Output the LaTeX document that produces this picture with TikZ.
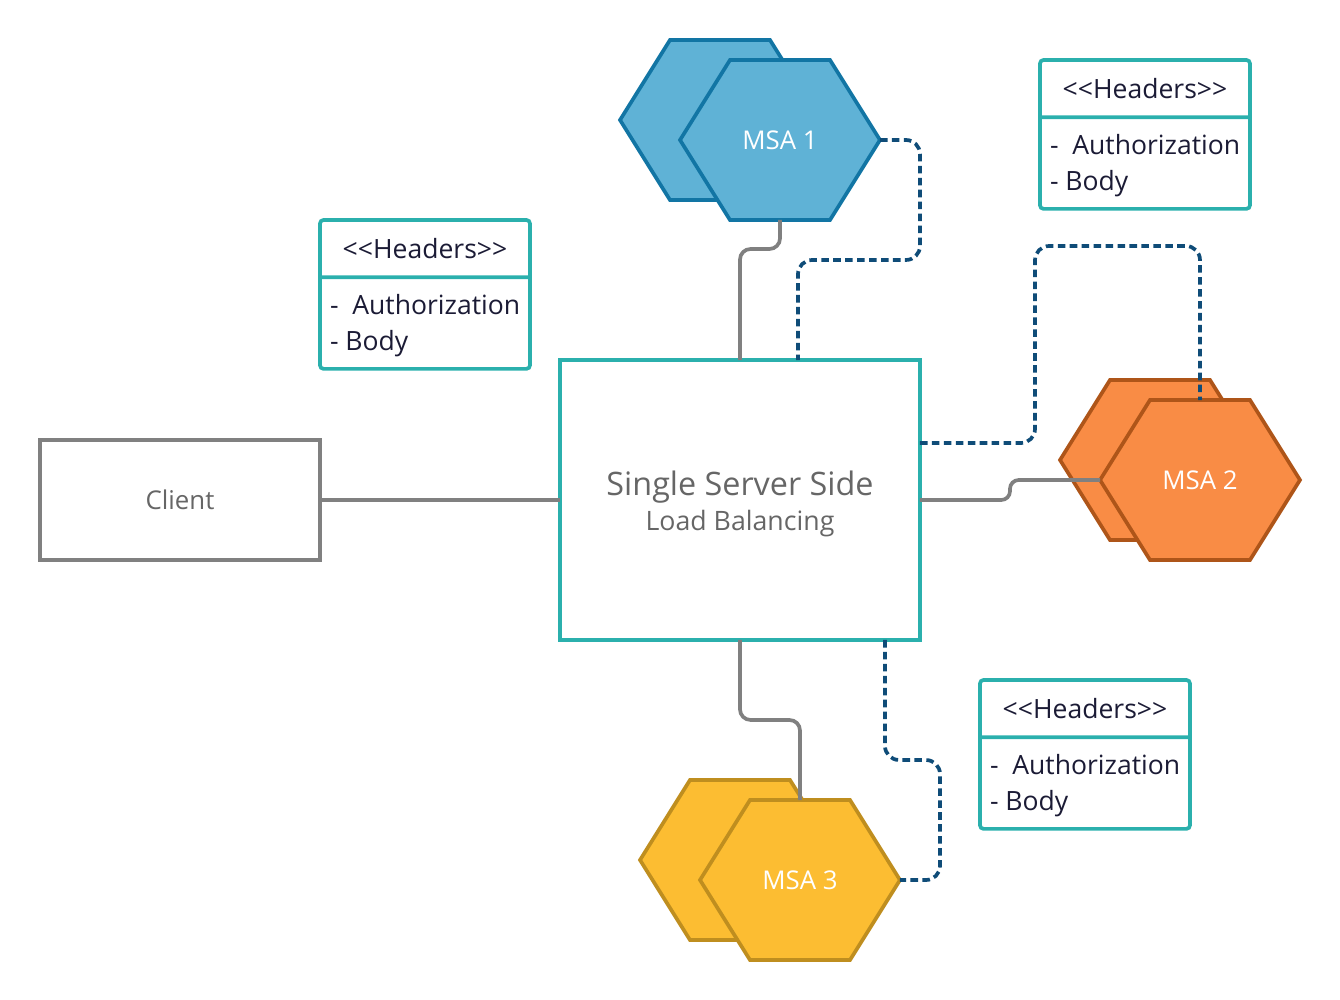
\documentclass[tikz,border=0pt]{standalone}
\usepackage{fontspec}
\setmainfont{Open Sans}
\usetikzlibrary{shapes.symbols,shapes.multipart}

\definecolor{boxteal}{HTML}{2BB0AD}
\definecolor{wiregray}{HTML}{808080}
\definecolor{dashblue}{HTML}{0F4C78}
\definecolor{labelgray}{HTML}{666666}
\definecolor{hdrtext}{HTML}{1B1B35}
\definecolor{msablue}{HTML}{5FB2D6}
\definecolor{msablueline}{HTML}{1275A4}
\definecolor{msaorange}{HTML}{F98C45}
\definecolor{msaorangeline}{HTML}{AE5519}
\definecolor{msayellow}{HTML}{FCBD32}
\definecolor{msayellowline}{HTML}{BF8E1F}

\begin{document}
\begin{tikzpicture}[x=0.02cm, y=-0.02cm]
	\tikzstyle{every node}=[font=\fontsize{14.7}{20.4}\selectfont];
	\tikzstyle{hexa}=[signal, signal to=east and west, signal pointer angle=116, minimum width=4cm, minimum height=3.2cm, inner sep=0pt, outer sep=0pt, line width=2.1pt, text=white];
	\tikzstyle{wire}=[draw=wiregray, line width=2.1pt, rounded corners=6pt];
	\tikzstyle{dashwire}=[draw=dashblue, line width=2.1pt, dash pattern=on 4.3pt off 2.5pt, rounded corners=8pt];
	\tikzstyle{hdr}=[draw=boxteal, line width=2.1pt, rounded corners=2pt, rectangle split, rectangle split parts=2, inner sep=0pt, outer sep=0pt, text=hdrtext, anchor=north west, font=\fontsize{15.1}{20.4}\selectfont];
	\useasboundingbox (0,0) rectangle (1340,1000);

	\node[draw=wiregray, line width=2.1pt, minimum width=5.6cm, minimum height=2.4cm, outer sep=0pt, text=labelgray] (client) at (180,500) {Client};
	\node[draw=boxteal, line width=2.1pt, minimum width=7.2cm, minimum height=5.6cm, outer sep=0pt] (main) at (740,500) {};
	\node[align=center, text=labelgray] (mainlabel) at (740,504) {\fontsize{18.4}{22}\selectfont Single Server Side\\\fontsize{15.2}{22}\selectfont Load Balancing};

	% services
	\node[hexa, draw=msablueline, fill=msablue] (msa1b) at (720,120) {};
	\node[hexa, draw=msablueline, fill=msablue] (msa1) at (780,140) {MSA 1};
	\node[hexa, draw=msaorangeline, fill=msaorange] (msa2b) at (1160,460) {};
	\node[hexa, draw=msaorangeline, fill=msaorange] (msa2) at (1200,480) {MSA 2};
	\node[hexa, draw=msayellowline, fill=msayellow] (msa3b) at (740,860) {};
	\node[hexa, draw=msayellowline, fill=msayellow] (msa3) at (800,880) {MSA 3};

	% headers
	\node[hdr] (hdr1) at (320,220) {\parbox[c][1.07cm][c]{4.2cm}{\centering <\kern0pt<Headers>\kern0pt>}\nodepart{two}\parbox[c][1.76cm][c]{4.2cm}{\vspace*{0.12cm}\hspace*{0.2cm}-\ \ Authorization\\\hspace*{0.2cm}- Body}};
	\node[hdr] (hdr2) at (1040,60) {\parbox[c][1.07cm][c]{4.2cm}{\centering <\kern0pt<Headers>\kern0pt>}\nodepart{two}\parbox[c][1.76cm][c]{4.2cm}{\vspace*{0.12cm}\hspace*{0.2cm}-\ \ Authorization\\\hspace*{0.2cm}- Body}};
	\node[hdr] (hdr3) at (980,680) {\parbox[c][1.07cm][c]{4.2cm}{\centering <\kern0pt<Headers>\kern0pt>}\nodepart{two}\parbox[c][1.76cm][c]{4.2cm}{\vspace*{0.12cm}\hspace*{0.2cm}-\ \ Authorization\\\hspace*{0.2cm}- Body}};

	\draw[wire] (client.east) -- (main.west);
	\draw[wire] (msa1.south) -- ++(0,29) -| (main.north);
	\draw[wire, rounded corners=5pt] (main.east) -- (1010,500) -- (1010,480) -- (msa2.west);
	\draw[wire] (main.south) -- ++(0,80) -| (msa3.north);

	\draw[dashwire] (msa1.east) -| (920,260) -| ([xshift=1.16cm]main.north);
	\draw[dashwire] ([yshift=1.14cm]main.east) -| (1035,246) -| (msa2.north);
	\draw[dashwire] ([xshift=2.9cm]main.south) |- (940,760) |- (msa3.east);
\end{tikzpicture}
\end{document}
